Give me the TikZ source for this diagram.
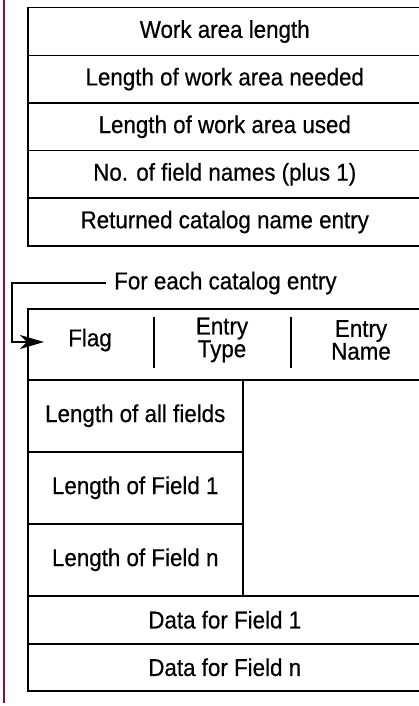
\documentclass[tikz,border=0pt]{standalone}
\usepackage{fontspec}
\setmainfont[FakeStretch=0.92,FakeBold=0.5]{Liberation Sans}
\usetikzlibrary{arrows.meta}
\definecolor{barcol}{RGB}{140,12,82}
\tikzset{
  cell/.style={draw=black, line width=1.5pt, minimum width=394pt, inner sep=0pt,
    font=\fontsize{24.3}{20}\selectfont, align=center, anchor=north west},
  smallcell/.style={cell, minimum width=215pt, minimum height=72pt},
  rowcell/.style={cell, minimum height=47.6pt},
  divider/.style={line width=1.8pt, black},
  conn/.style={line width=2pt, black, -{Stealth[length=24pt,width=14pt,inset=7pt]}},
  txt/.style={font=\fontsize{24.3}{20}\selectfont, align=center, inner sep=0pt},
}
\begin{document}
\begin{tikzpicture}[x=1pt,y=-1pt]
\useasboundingbox (0,0) rectangle (419,706);
\clip (0,0) rectangle (419,706);
\fill[white] (0,0) rectangle (419,706);
% left bar
\draw[line width=2.2pt, barcol] (4,0) -- (4,703);
% top block
\node[rowcell] (r1) at (27,7) {Work area length};
\node[rowcell] (r2) at (27,54.6) {Length of work area needed};
\node[rowcell] (r3) at (27,102.2) {Length of work area used};
\node[rowcell] (r4) at (27,149.8) {No. of field names (plus 1)};
\node[rowcell] (r5) at (27,197.4) {Returned catalog name entry};
% label and arrow
\node[txt, anchor=west, inner xsep=8pt] (lbl) at (106,283) {For each catalog entry};
% header
\node[cell, minimum height=71pt] (hdr) at (27,308) {};
\node[txt] (flag) at (90,340) {Flag};
\node[txt] (etype) at (222,340) {Entry\\Type};
\node[txt] (ename) at (361,340) {Entry\\Name};
\draw[divider] (154,317) -- (154,368);
\draw[divider] (291,317) -- (291,368);
\coordinate (tip) at (44,342);
\draw[conn] (lbl.west) -- (12,283) |- (tip);
% small boxes
\node[smallcell] (b1) at (27,379) {Length of all fields};
\node[smallcell] (b2) at (27,451) {Length of Field 1};
\node[smallcell] (b3) at (27,523) {Length of Field n};
% data rows
\node[rowcell, minimum height=48pt] (d1) at (27,595) {Data for Field 1};
\node[rowcell, minimum height=47pt] (d2) at (27,643) {Data for Field n};
\end{tikzpicture}
\end{document}
